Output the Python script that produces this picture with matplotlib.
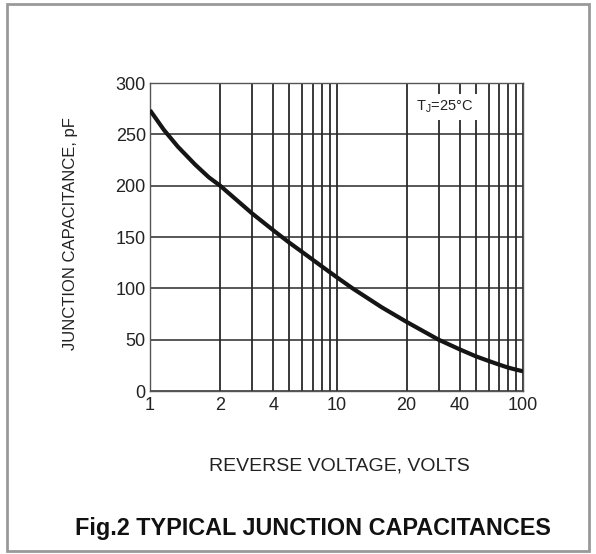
import numpy as np
import matplotlib
matplotlib.use("Agg")
import matplotlib.pyplot as plt
from matplotlib.patches import Rectangle

plt.rcParams['font.family'] = ['Liberation Sans', 'DejaVu Sans']
plt.rcParams['mathtext.fontset'] = 'custom'
plt.rcParams['mathtext.rm'] = 'Liberation Sans'
plt.rcParams['mathtext.it'] = 'Liberation Sans'

# ---- data ----
voltage = [1, 1.1, 1.25, 1.5, 1.75, 2, 3, 4, 5, 6, 8, 10, 11.2, 15, 20, 30, 40, 50, 60, 70, 80, 90, 100]
capacitance = [273.5, 254.3, 238, 220.4, 208.1, 200, 173, 156.5, 144.5, 135.5, 121.5, 111, 100, 81.5,
               67.3, 50, 40.5, 33.8, 29.3, 25.7, 22.8, 20.8, 19.2]

x_tick_values = [1, 2, 4, 10, 20, 40, 100]
x_tick_labels = ['1', '2', '4', '10', '20', '40', '100']
x_grid_values = [3, 5, 6, 7, 8, 9, 30, 50, 60, 70, 80, 90]
y_tick_values = [0, 50, 100, 150, 200, 250, 300]
y_tick_labels = ['0', '50', '100', '150', '200', '250', '300']

# ---- custom log-like scale (chart paper is a stretched log grid) ----
P = 0.815

def fwd(x):
    x = np.asarray(x, dtype=float)
    with np.errstate(divide='ignore', invalid='ignore'):
        v = np.log10(np.where(x > 0, x, np.nan))
    d = np.floor(v + 1e-9)
    f = np.clip(v - d, 0, None)
    return d + f ** P

def inv(y):
    y = np.asarray(y, dtype=float)
    d = np.floor(y + 1e-9)
    f = np.clip(y - d, 0, None)
    return 10 ** (d + f ** (1.0 / P))

fig = plt.figure(figsize=(5.96, 5.54), dpi=100)
fig.patch.set_facecolor('white')
ax = fig.add_axes([150/596, 1 - 391/554, 373/596, 308/554])

ax.set_xscale('function', functions=(fwd, inv))
ax.set_xlim(1, 100)
ax.set_ylim(0, 300)

ax.set_xticks(x_tick_values)
ax.set_xticklabels(x_tick_labels)
ax.set_xticks(x_grid_values, minor=True)
ax.set_yticks(y_tick_values)
ax.set_yticklabels(y_tick_labels)
ax.tick_params(which='both', length=0, labelsize=13, colors='#222222', pad=3)
ax.tick_params(axis='x', pad=4)

ax.grid(which='both', axis='x', color='#2a2a2a', linewidth=1.3)
ax.grid(which='major', axis='y', color='#2a2a2a', linewidth=1.1)
ax.set_axisbelow(True)
for s in ax.spines.values():
    s.set_color('#555555')
    s.set_linewidth(1.0)

ax.plot(voltage, capacitance, color='#151515', linewidth=3.0, solid_capstyle='butt',
        solid_joinstyle='round', zorder=3)

ax.text(0.790, 0.922, r'T$_{\mathrm{J}}$=25°C', transform=ax.transAxes, ha='center', va='center',
        fontsize=10.5, color='#222222', zorder=4,
        bbox=dict(boxstyle='square,pad=0.3', facecolor='white', edgecolor='none'))

fig.text(70/596, 1 - 234/554, 'JUNCTION CAPACITANCE, pF', rotation=90, ha='center', va='center',
         fontsize=12, color='#222222')
fig.text(339/596, 1 - 466/554, 'REVERSE VOLTAGE, VOLTS', ha='center', va='center',
         fontsize=14, color='#222222')
fig.text(313/596, 1 - 528/554, 'Fig.2 TYPICAL JUNCTION CAPACITANCES', ha='center', va='center',
         fontsize=16.8, fontweight='bold', color='#111111')

fig.add_artist(Rectangle((7/596, 1 - 551/554), 582/596, 547/554, transform=fig.transFigure,
                         fill=False, edgecolor='#999999', linewidth=2))

fig.savefig('out.png', dpi=100)
